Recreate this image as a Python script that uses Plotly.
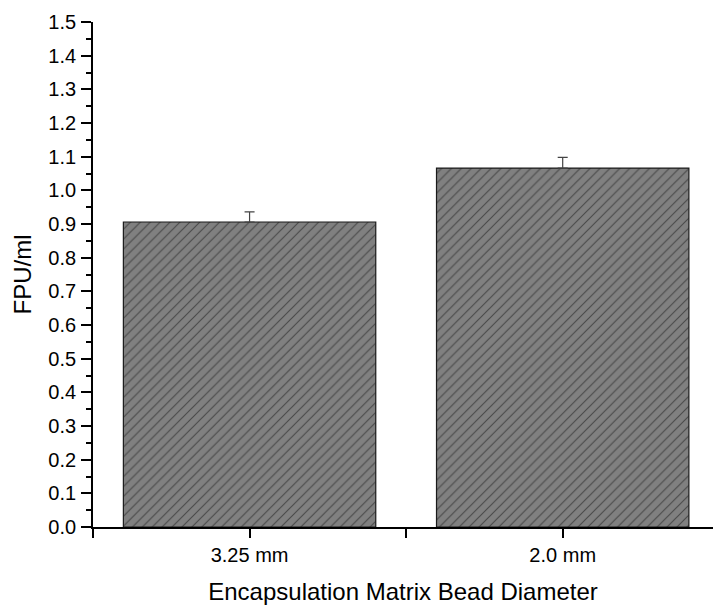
import plotly.graph_objects as go

categories = ["3.25 mm", "2.0 mm"]
values = [0.906, 1.066]
errors = [0.030, 0.032]
y_ticks = [round(i * 0.1, 1) for i in range(16)]
y_tick_labels = [f"{v:.1f}" for v in y_ticks]
x_tick_positions = [-0.5, 0, 0.5, 1, 1.5]
x_tick_labels = ["", categories[0], "", categories[1], ""]

fig = go.Figure()
fig.add_trace(go.Bar(
    x=[0, 1],
    y=values,
    width=0.806,
    marker=dict(
        color="#808080",
        line=dict(color="#1a1a1a", width=1.2),
        pattern=dict(shape="/", fgcolor="#111111", bgcolor="#808080", size=7, solidity=0.16),
    ),
    error_y=dict(type="data", array=errors, arrayminus=[0, 0], symmetric=False,
                 color="#444444", thickness=1.2, width=5),
    showlegend=False,
))

fig.update_layout(
    width=713, height=607,
    margin=dict(l=93, r=0, t=22, b=80),
    plot_bgcolor="white", paper_bgcolor="white",
    font=dict(family="Liberation Sans, Arial, sans-serif", color="black"),
)
fig.update_xaxes(
    range=[-0.5, 1.48],
    tickvals=x_tick_positions, ticktext=x_tick_labels,
    ticks="outside", ticklen=9, tickwidth=1.5, tickcolor="black",
    ticklabelstandoff=0,
    showline=True, linecolor="black", linewidth=1.8,
    showgrid=False, zeroline=False,
    tickfont=dict(size=20),
    title=dict(text="Encapsulation Matrix Bead Diameter", font=dict(size=24), standoff=18),
    automargin=False,
)
fig.update_yaxes(
    range=[0, 1.5],
    tickvals=y_ticks, ticktext=y_tick_labels,
    ticks="outside", ticklen=10, tickwidth=1.5, tickcolor="black",
    ticklabelstandoff=1,
    minor=dict(ticks="outside", ticklen=5, tickwidth=1.5, tickcolor="black", dtick=0.05, showgrid=False),
    showline=True, linecolor="black", linewidth=1.8,
    showgrid=False, zeroline=False,
    tickfont=dict(size=20),
    title=dict(text="FPU/ml", font=dict(size=24), standoff=10),
    automargin=False,
)

fig.write_html("out.html")
